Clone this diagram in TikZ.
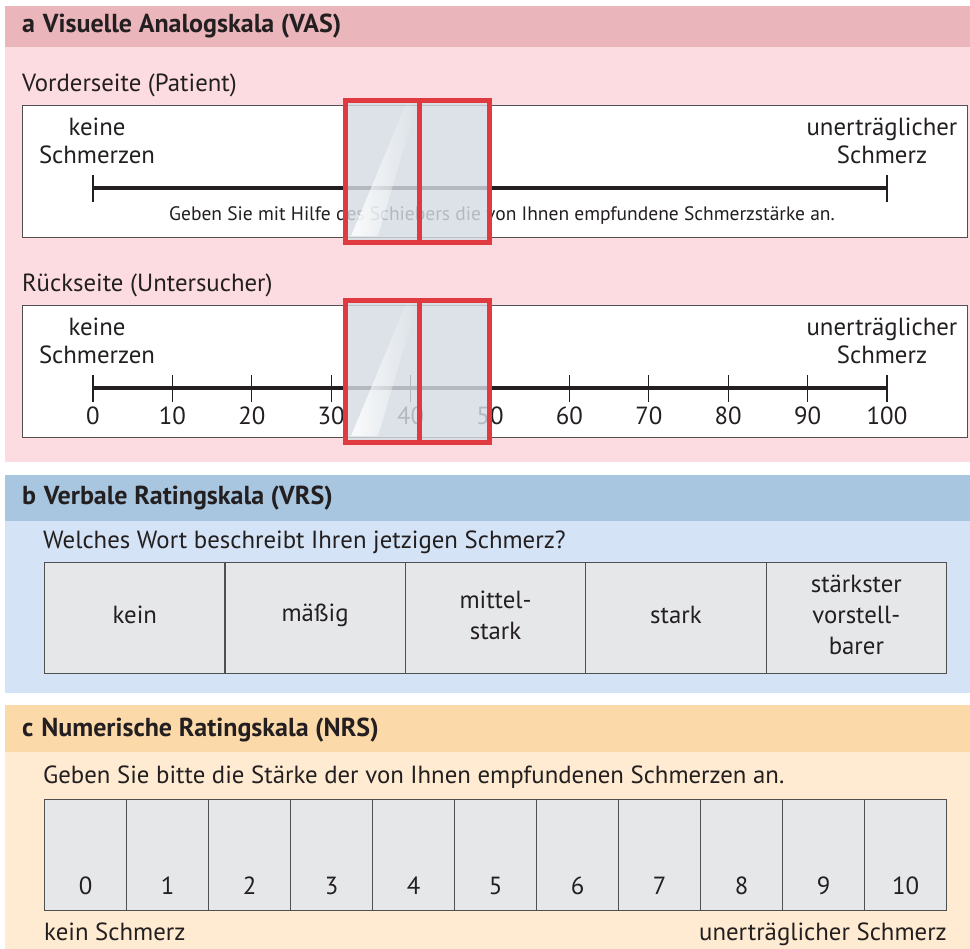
\documentclass[tikz,border=0pt]{standalone}
\usepackage{fontspec}
\setmainfont{PT Sans}
\usetikzlibrary{fadings}
\definecolor{hdrA}{HTML}{EBB5BC}
\definecolor{bodyA}{HTML}{FCDCE0}
\definecolor{hdrB}{HTML}{A9C6E0}
\definecolor{bodyB}{HTML}{D4E3F5}
\definecolor{hdrC}{HTML}{FCD9A9}
\definecolor{bodyC}{HTML}{FEEBD1}
\definecolor{txt}{HTML}{231F20}
\definecolor{slred}{HTML}{E03A40}
\definecolor{slfill}{HTML}{D5DCE4}
\definecolor{cellgrey}{HTML}{E6E7E9}
\definecolor{rule}{HTML}{505050}
\tikzset{
  bodytxt/.style={text=txt, inner sep=0pt, font=\fontsize{24.8}{28}\selectfont},
  hdrtxt/.style={text=txt, inner sep=0pt, anchor=base west, font=\bfseries\fontsize{26}{28}\selectfont},
  smalltxt/.style={text=txt, inner sep=0pt, font=\fontsize{19.5}{22}\selectfont},
  whitebox/.style={draw=rule, fill=white, line width=1.1pt},
  cellbox/.style={draw=rule, fill=cellgrey, line width=1.1pt},
  scaleline/.style={line width=4pt, draw=txt},
  tickline/.style={line width=1.1pt, draw=txt},
  sliderframe/.style={draw=slred, line width=5pt, fill=slfill, fill opacity=0.82},
  sliderbar/.style={draw=slred, line width=5pt},
}
\begin{document}
\begin{tikzpicture}[x=1pt,y=-1pt]
\useasboundingbox (0,0) rectangle (970,949);
\fill[white] (0,0) rectangle (970,949);
% ---------- section bands
\fill[hdrA] (5,6) rectangle (970,47);
\fill[bodyA] (5,47) rectangle (970,462);
\fill[hdrB] (5,475) rectangle (970,521);
\fill[bodyB] (5,521) rectangle (970,693);
\fill[hdrC] (5,705) rectangle (970,752);
\fill[bodyC] (5,752) rectangle (970,949);

% ---------- a
\node[hdrtxt] (hA) at (22,33) {a\hspace{0.3em}Visuelle Analogskala (VAS)};
\node[bodytxt, anchor=base west] (front) at (22,92) {Vorderseite (Patient)};
\node[whitebox, minimum width=945pt, minimum height=132pt, anchor=north west] (boxF) at (22,105) {};
\node[bodytxt, align=center, anchor=base] (kF) at (97,164) {keine\\Schmerzen};
\node[bodytxt, align=center, anchor=base] (uF) at (882,164) {unerträglicher\\Schmerz};
\coordinate (lF0) at (93,188);
\coordinate (lF1) at (887,188);
\draw[scaleline] (lF0) -- (lF1);
\draw[tickline] (93,175) -- (93,202);
\draw[tickline] (887,175) -- (887,202);
\node[smalltxt, anchor=base] (instr) at (502,221) {Geben Sie mit Hilfe des Schiebers die von Ihnen empfundene Schmerzstärke an.};

\node[bodytxt, anchor=base west] (back) at (22,292) {Rückseite (Untersucher)};
\node[whitebox, minimum width=945pt, minimum height=132pt, anchor=north west] (boxB) at (22,305) {};
\node[bodytxt, align=center, anchor=base] (kB) at (97,364) {keine\\Schmerzen};
\node[bodytxt, align=center, anchor=base] (uB) at (882,364) {unerträglicher\\Schmerz};
\coordinate (lB0) at (93,388);
\coordinate (lB1) at (887,388);
\draw[scaleline] (lB0) -- (lB1);
\foreach \i in {0,...,10}{
  \pgfmathsetmacro{\xx}{93+\i*79.4}
  \draw[tickline] (\xx,375) -- (\xx,402);
  \pgfmathtruncatemacro{\lab}{\i*10}
  \node[bodytxt, anchor=base] (n\i) at (\xx,425) {\lab};
}

% sliders
\foreach \yy/\nm in {98/sF,298/sB}{
  \path[sliderframe] (345.5,\yy+2.5) rectangle (489.5,\yy+144.5);
  \fill[white, opacity=0.85, path fading=east] (351,\yy+138) -- (378,\yy+138) -- (417,\yy+6) -- (406,\yy+6) -- cycle;
  \draw[draw=slred, line width=5pt] (345.5,\yy+2.5) rectangle (489.5,\yy+144.5);
  \draw[sliderbar] (419,\yy) -- (419,\yy+147);
}

% ---------- b
\node[hdrtxt] (hB) at (22,505) {b\hspace{0.3em}Verbale Ratingskala (VRS)};
\node[bodytxt, anchor=base west] (qB) at (43,548) {Welches Wort beschreibt Ihren jetzigen Schmerz?};
\foreach \i/\t in {0/kein,1/mäßig,2/{mittel-\\stark},3/stark,4/{stärkster\\vorstell-\\barer}}{
  \node[cellbox, minimum width=180.4pt, minimum height=111pt, anchor=north west] (vc\i) at (44+\i*180.4,562) {};
  \node[bodytxt, align=center, font=\fontsize{24.8}{31}\selectfont] (vt\i) at ([yshift=3pt]vc\i.center) {\t};
}

% ---------- c
\node[hdrtxt] (hC) at (22,736) {c\hspace{0.3em}Numerische Ratingskala (NRS)};
\node[bodytxt, anchor=base west] (qC) at (43,783) {Geben Sie bitte die Stärke der von Ihnen empfundenen Schmerzen an.};
\foreach \i in {0,...,10}{
  \node[cellbox, minimum width=82pt, minimum height=111pt, anchor=north west] (nc\i) at (44+\i*82,799) {};
  \node[bodytxt, anchor=base] (nt\i) at ([yshift=17pt]nc\i.south) {\i};
}
\node[bodytxt, anchor=base west] (lo) at (44,940) {kein Schmerz};
\node[bodytxt, anchor=base east] (hi) at (947,940) {unerträglicher Schmerz};
\end{tikzpicture}
\end{document}
